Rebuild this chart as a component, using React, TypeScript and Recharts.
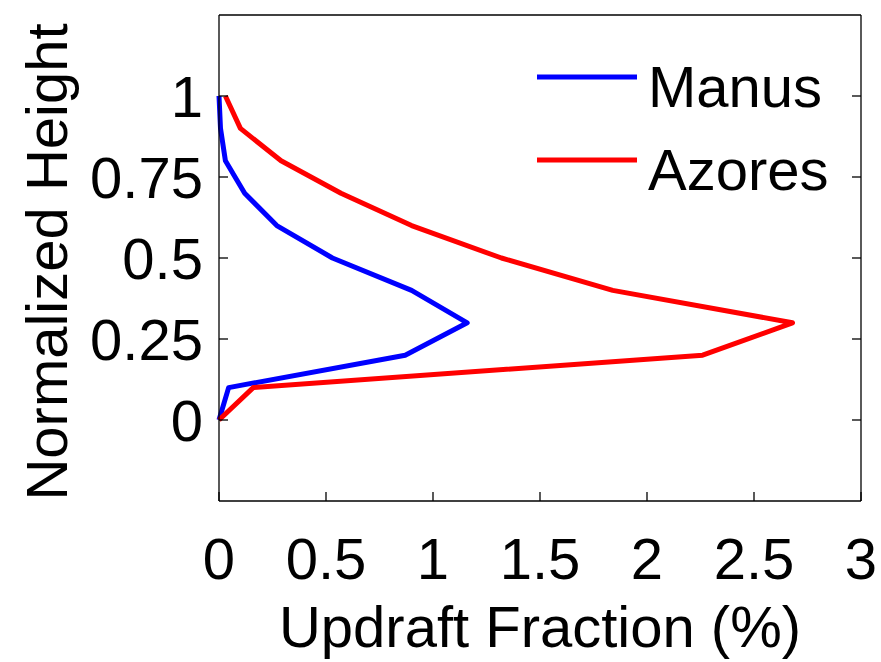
import { LineChart, Line, XAxis, YAxis, Legend, Label } from 'recharts';

const heights = [0, 0.1, 0.2, 0.3, 0.4, 0.5, 0.6, 0.7, 0.8, 0.9, 1.0];
const manus = [0, 0.045, 0.87, 1.16, 0.9, 0.53, 0.27, 0.12, 0.03, 0.007, 0];
const azores = [0, 0.16, 2.26, 2.68, 1.84, 1.32, 0.9, 0.57, 0.29, 0.1, 0.03];

const seriesNames = ['Manus', 'Azores'];
const xTicks = [0, 0.5, 1, 1.5, 2, 2.5, 3];
const yTicks = [0, 0.25, 0.5, 0.75, 1];
const xDomain = [0, 3];
const yDomain = [-0.25, 1.25];

const rows = heights.map((h, i) => ({ h, manus: manus[i], azores: azores[i] }));

const FONT = '"Liberation Sans", Arial, Helvetica, sans-serif';
const tickFont = { fontSize: 58, fill: '#000', fontFamily: FONT };
const frame = { stroke: '#000', strokeWidth: 1.3 };
const noLabel = () => <g />;

const YLabel = (props: any) => {
  const { viewBox } = props;
  const cx = viewBox.x + 67;
  const cy = viewBox.y + viewBox.height / 2 + 4;
  return (
    <text
      x={cx}
      y={cy}
      transform={`rotate(-90 ${cx} ${cy})`}
      textAnchor="middle"
      fontSize={58}
      fontFamily={FONT}
      fill="#000"
    >
      Normalized Height
    </text>
  );
};

const LegendBox = (props: any) => {
  const items = [...(props.payload || [])].sort(
    (a: any, b: any) => seriesNames.indexOf(a.value) - seriesNames.indexOf(b.value)
  );
  return (
    <svg width={340} height={170} style={{ display: 'block' }}>
      {items.map((item: any, i: number) => (
        <g key={item.value}>
          <line
            x1={7}
            x2={107}
            y1={37 + i * 83}
            y2={37 + i * 83}
            stroke={item.color}
            strokeWidth={5}
          />
          <text x={118} y={67 + i * 83} fontSize={58} fontFamily={FONT} fill="#000">
            {item.value}
          </text>
        </g>
      ))}
    </svg>
  );
};

export default function App() {
  return (
    <div style={{ position: 'absolute', left: 0, top: 0, background: '#fff' }}>
      <LineChart
        width={881}
        height={662}
        data={rows}
        layout="vertical"
        margin={{ top: 14, right: 19, left: 0, bottom: 0 }}
      >
        {/* negative tickSize: ticks point into the box, as in the original */}
        <XAxis
          xAxisId="bottom"
          type="number"
          domain={xDomain}
          ticks={xTicks}
          height={161}
          tickSize={-9}
          tickMargin={46}
          tickLine={frame}
          axisLine={frame}
          tick={tickFont}
          interval={0}
        >
          <Label
            value="Updraft Fraction (%)"
            position="insideBottom"
            offset={15}
            fontSize={58}
            fontFamily={FONT}
            fill="#000"
          />
        </XAxis>
        <XAxis
          xAxisId="top"
          orientation="top"
          type="number"
          domain={xDomain}
          ticks={xTicks}
          height={1}
          tickSize={-9}
          tickLine={frame}
          axisLine={frame}
          tick={noLabel}
          interval={0}
        />
        <YAxis
          yAxisId="left"
          type="number"
          dataKey="h"
          domain={yDomain}
          ticks={yTicks}
          reversed
          width={219}
          tickSize={-9}
          tickMargin={25}
          tickLine={frame}
          axisLine={frame}
          tick={tickFont}
          interval={0}
        >
          <Label content={YLabel} />
        </YAxis>
        <YAxis
          yAxisId="right"
          orientation="right"
          type="number"
          dataKey="h"
          domain={yDomain}
          ticks={yTicks}
          reversed
          width={1}
          tickSize={-9}
          tickLine={frame}
          axisLine={frame}
          tick={noLabel}
          interval={0}
        />
        <Legend
          content={LegendBox}
          layout="vertical"
          align="center"
          verticalAlign="middle"
          wrapperStyle={{ top: 40, left: 530, width: 340, height: 170 }}
        />
        <Line
          xAxisId="bottom"
          yAxisId="left"
          dataKey="manus"
          name="Manus"
          stroke="#0000ff"
          strokeWidth={5}
          strokeLinejoin="round"
          dot={false}
          activeDot={false}
          isAnimationActive={false}
        />
        <Line
          xAxisId="bottom"
          yAxisId="left"
          dataKey="azores"
          name="Azores"
          stroke="#ff0000"
          strokeWidth={5}
          strokeLinejoin="round"
          dot={false}
          activeDot={false}
          isAnimationActive={false}
        />
      </LineChart>
    </div>
  );
}
